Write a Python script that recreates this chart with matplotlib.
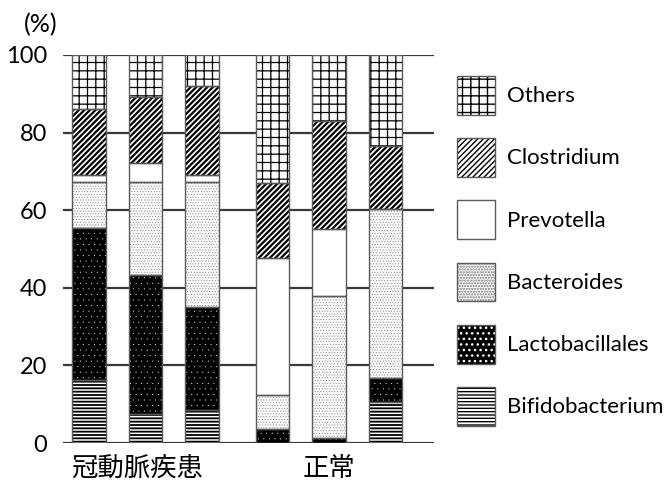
import matplotlib
matplotlib.use("Agg")
import matplotlib.pyplot as plt
import numpy as np

plt.rcParams['font.family'] = ['Lato', 'Noto Sans CJK JP', 'DejaVu Sans']

# ---- data ----
bar_positions = [0, 1, 2, 3.25, 4.25, 5.25]
group_labels = ["冠動脈疾患", "正常"]
group_label_x = [0.85, 4.25]
series_names = ["Bifidobacterium", "Lactobacillales", "Bacteroides",
                "Prevotella", "Clostridium", "Others"]
bifidobacterium = [16.3, 7.4, 8.4, 0.0, 0.0, 10.6]
lactobacillales = [39.2, 35.8, 26.7, 3.5, 1.4, 6.2]
bacteroides = [11.7, 24.0, 32.1, 8.8, 36.4, 43.4]
prevotella = [2.0, 4.9, 1.9, 35.4, 17.4, 0.0]
clostridium = [16.8, 17.1, 22.9, 19.4, 27.8, 16.3]
others = [14.0, 10.8, 8.0, 32.9, 17.0, 23.5]
yticks = [0, 20, 40, 60, 80, 100]

series = [bifidobacterium, lactobacillales, bacteroides, prevotella, clostridium, others]

# style: (face, hatchcolor, hatch, hatch linewidth)
styles = [
    ("white", "black", "-----", 1.3),
    ("black", "white", "...", 0.0),
    ("#f8f8f8", "#7a7a7a", "......", 0.3),
    ("white", "white", None, 1.0),
    ("white", "black", "//////", 1.6),
    ("white", "black", "++", 0.9),
]

fig = plt.figure(figsize=(6.66, 4.82), dpi=100)
ax = fig.add_axes([62.7 / 666, 1 - 443 / 482, (434 - 62.7) / 666, (443 - 55) / 482])

width = 0.593
bottom = np.zeros(len(bar_positions))
handles = []
for vals, (face, hc, hatch, hlw) in zip(series, styles):
    vals = np.array(vals)
    with plt.rc_context({'hatch.linewidth': hlw}):
        fill = ax.bar(bar_positions, vals, width=width, bottom=bottom, color=face,
                      edgecolor=hc, hatch=hatch, linewidth=0, zorder=2)
        for p in fill:
            if hasattr(p, 'set_hatch_linewidth'):
                p.set_hatch_linewidth(hlw)
    outline = ax.bar(bar_positions, vals, width=width, bottom=bottom, fill=False,
                     edgecolor="#5a5a5a", linewidth=1.0, zorder=3)
    handles.append((fill, outline))
    bottom += vals

ax.set_xlim(-0.47, 6.11)
ax.set_ylim(0, 100)
ax.set_yticks(yticks)
ax.set_xticks([])
ax.yaxis.grid(True, color="#3a3a3a", linewidth=1.6)
ax.set_axisbelow(True)
for s in ax.spines.values():
    s.set_visible(False)
ax.tick_params(axis='y', length=0, pad=11, labelsize=17)

fig.text(41 / 666, 1 - 25 / 482, "(%)", ha='center', va='center', fontsize=18)

for gx, gl in zip(group_label_x, group_labels):
    ax.text(gx, -6.5, gl, ha='center', va='center', fontsize=19,
            family=['Noto Sans CJK JP', 'DejaVu Sans'], clip_on=False)

leg = fig.legend(handles[::-1], series_names[::-1], loc='upper left',
                 bbox_to_anchor=(457 / 666, 1 - 76 / 482), frameon=False,
                 fontsize=16, handlelength=1.7, handleheight=2.3,
                 labelspacing=1.06, handletextpad=0.55, borderaxespad=0,
                 borderpad=0)

fig.savefig("out.png", dpi=100)
